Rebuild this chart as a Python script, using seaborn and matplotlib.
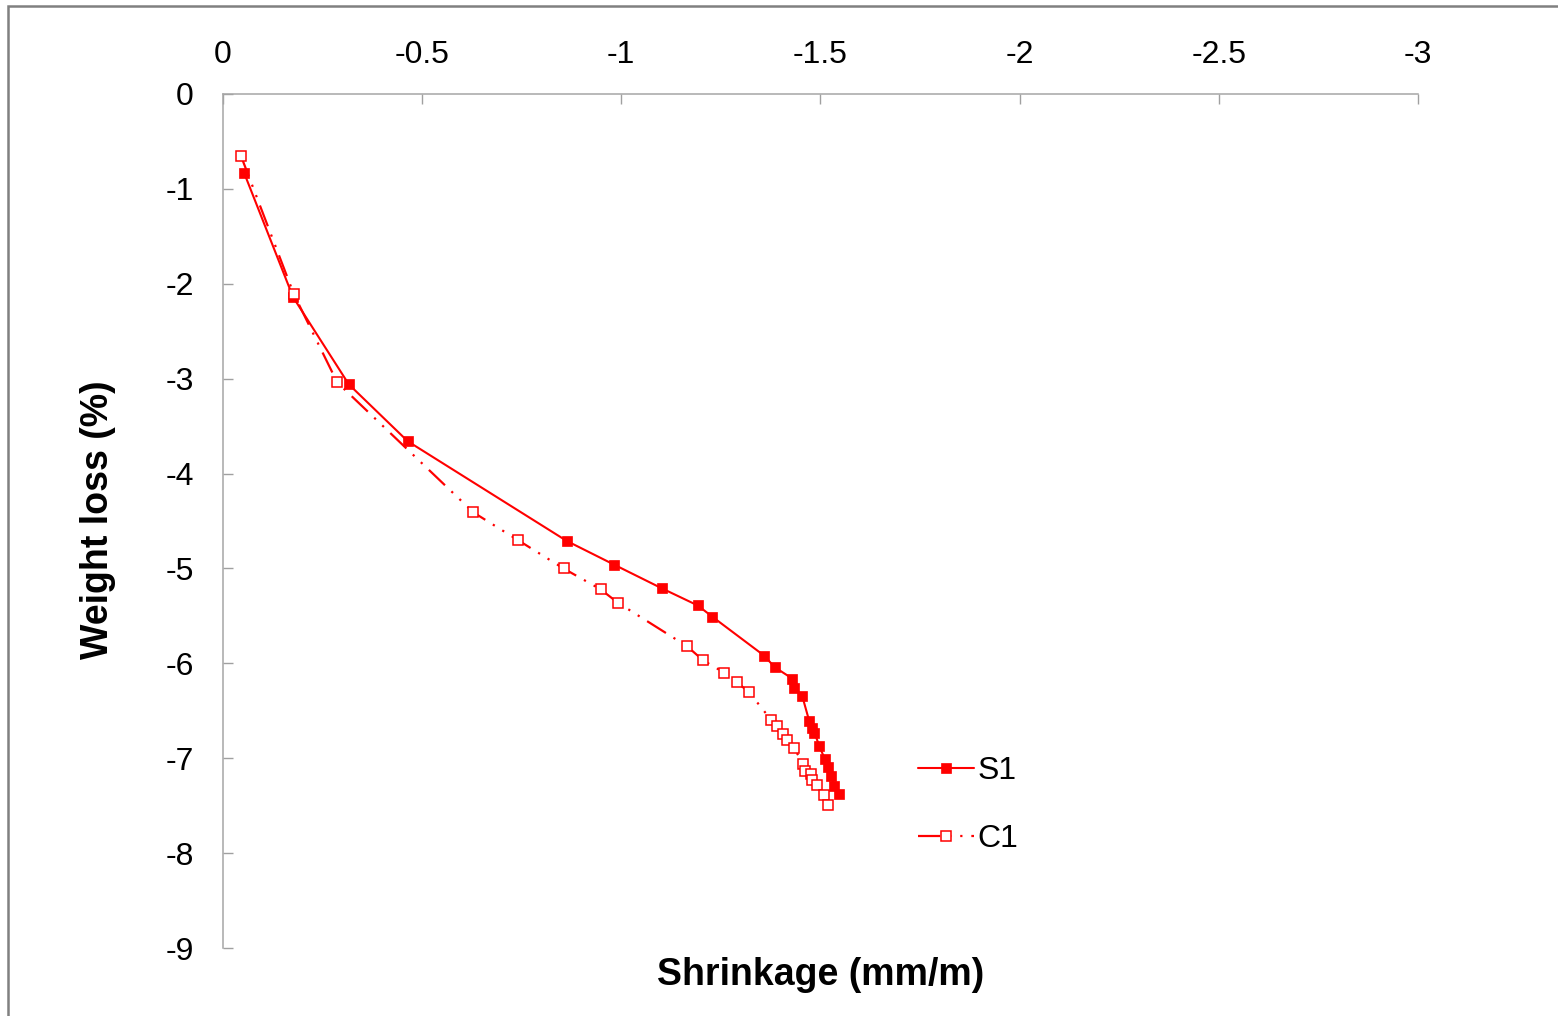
import matplotlib
matplotlib.use("Agg")
import matplotlib.pyplot as plt
from matplotlib.patches import Rectangle
import pandas as pd
import seaborn as sns

# Series S1: shrinkage (mm/m) vs weight loss (%)
s1_shrinkage = [-0.053, -0.176, -0.316, -0.464, -0.863, -0.982, -1.102, -1.192,
                -1.229, -1.359, -1.385, -1.429, -1.433, -1.454, -1.472, -1.479,
                -1.485, -1.497, -1.511, -1.520, -1.526, -1.535, -1.546]
s1_weight = [-0.83, -2.14, -3.06, -3.66, -4.71, -4.96, -5.21, -5.39,
             -5.51, -5.92, -6.04, -6.16, -6.26, -6.34, -6.61, -6.68,
             -6.73, -6.87, -7.01, -7.09, -7.19, -7.29, -7.38]

# Series C1
c1_shrinkage = [-0.045, -0.178, -0.287, -0.629, -0.740, -0.855, -0.948, -0.991,
                -1.165, -1.206, -1.259, -1.290, -1.320, -1.377, -1.391, -1.405,
                -1.416, -1.433, -1.457, -1.461, -1.476, -1.479, -1.491, -1.510,
                -1.520]
c1_weight = [-0.65, -2.11, -3.04, -4.41, -4.70, -5.00, -5.22, -5.36,
             -5.82, -5.97, -6.10, -6.20, -6.30, -6.60, -6.66, -6.74,
             -6.81, -6.89, -7.06, -7.13, -7.17, -7.23, -7.28, -7.39,
             -7.49]

x_ticks = [0, -0.5, -1, -1.5, -2, -2.5, -3]
y_ticks = [0, -1, -2, -3, -4, -5, -6, -7, -8, -9]

s1 = pd.DataFrame({"shrinkage": s1_shrinkage, "weight": s1_weight})
c1 = pd.DataFrame({"shrinkage": c1_shrinkage, "weight": c1_weight})

sns.set_theme(style="white")
plt.rcParams["font.family"] = ["Liberation Sans", "DejaVu Sans"]
plt.rcParams["axes.unicode_minus"] = False
plt.rcParams["text.color"] = "black"
plt.rcParams["axes.labelcolor"] = "black"
plt.rcParams["xtick.labelcolor"] = "black"
plt.rcParams["ytick.labelcolor"] = "black"

fig = plt.figure(figsize=(15.58, 10.16), dpi=100)
ax = fig.add_axes([0.1431, 0.0669, 0.7670, 0.8406])

sns.lineplot(data=s1, x="shrinkage", y="weight", sort=False, estimator=None,
             color="red", linewidth=1.5, marker="s", markersize=7.5,
             markerfacecolor="red", markeredgecolor="red", markeredgewidth=0.5,
             label="S1", ax=ax)
sns.lineplot(data=c1, x="shrinkage", y="weight", sort=False, estimator=None,
             color="red", linewidth=1.6, linestyle=(0, (10, 4, 1, 4, 1, 4)),
             marker="s", markersize=6.8, markerfacecolor="white",
             markeredgecolor="red", markeredgewidth=1.1,
             label="C1", ax=ax)

ax.set_xlim(0, -3)
ax.set_ylim(-9, 0)
ax.set_xticks(x_ticks)
ax.set_xticklabels([f"{v:g}" for v in x_ticks])
ax.set_yticks(y_ticks)
ax.set_yticklabels([f"{v:g}" for v in y_ticks])

ax.xaxis.tick_top()
ax.tick_params(axis="x", top=True, bottom=False, direction="in", length=7.2,
               width=1.0, color="#a0a0a0", labelsize=23, pad=17,
               labelcolor="black")
ax.tick_params(axis="y", left=True, right=False, direction="in", length=7.2,
               width=1.0, color="#a0a0a0", labelsize=23, pad=21,
               labelcolor="black")

for side in ("right", "bottom"):
    ax.spines[side].set_visible(False)
for side in ("top", "left"):
    ax.spines[side].set_visible(True)
    ax.spines[side].set_color("#a6a6a6")
    ax.spines[side].set_linewidth(1.1)

ax.set_xlabel("Shrinkage (mm/m)", fontsize=27, fontweight="bold", color="black")
ax.xaxis.set_label_position("bottom")
ax.xaxis.set_label_coords(0.5, -0.0316)
ax.xaxis.label.set_va("center")
ax.set_ylabel("Weight loss (%)", fontsize=27, fontweight="bold", color="black")
ax.yaxis.set_label_coords(-0.1046, 0.501)
ax.yaxis.label.set_va("center")
ax.yaxis.label.set_ha("center")

leg = ax.legend(loc="center left", bbox_to_anchor=(918 / 1558, 1 - 805 / 1016),
                bbox_transform=fig.transFigure, frameon=False, fontsize=23,
                handlelength=1.75, handletextpad=0.12, labelspacing=1.2,
                borderpad=0, borderaxespad=0, numpoints=1)
for t in leg.get_texts():
    t.set_color("black")

# outer frame of the chart area (left and top edges are visible)
frame_left = 8 / 1558
frame_top = 1 - 6 / 1016
fig.patches.append(Rectangle((frame_left, -0.1), 1.2, frame_top + 0.1,
                             transform=fig.transFigure, fill=False,
                             edgecolor="#808080", linewidth=1.8, clip_on=False))

fig.savefig("out.png", dpi=100)
